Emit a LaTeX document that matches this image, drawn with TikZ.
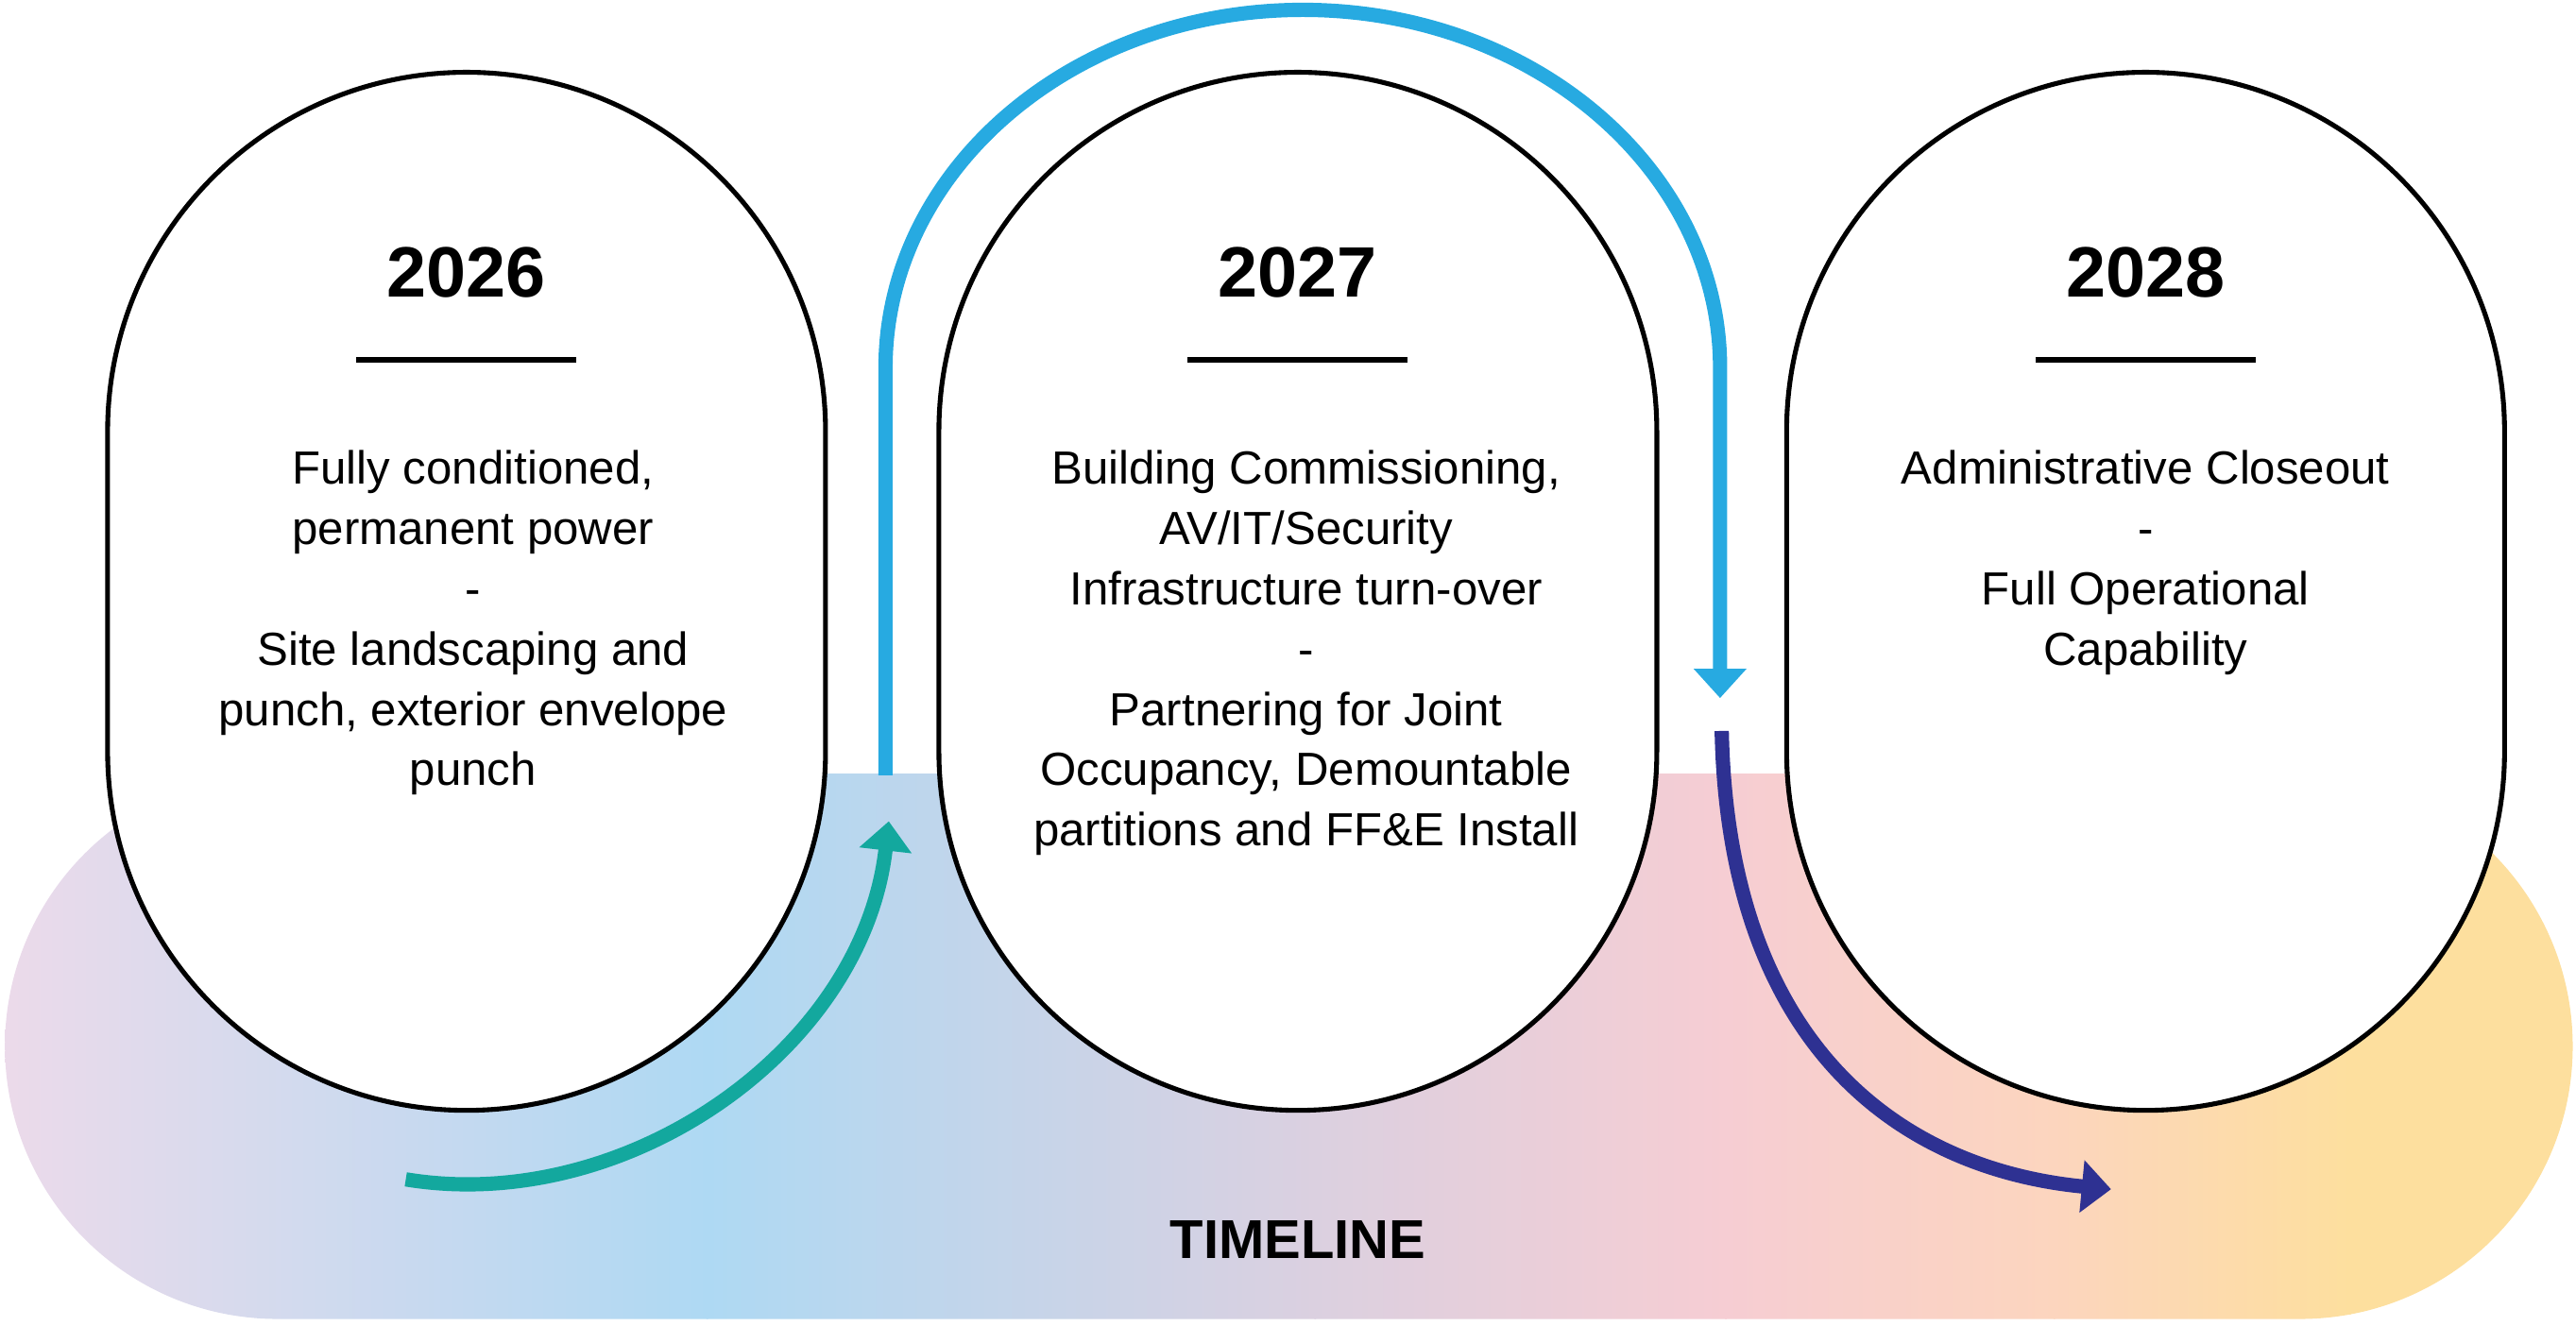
\documentclass[tikz,border=0pt]{standalone}
\usepackage{fontspec}
\setmainfont{Liberation Sans}
\usepackage{xcolor}
\usepackage{tikz}
\usetikzlibrary{arrows.meta,positioning}

\definecolor{tealarrow}{RGB}{19,168,158}
\definecolor{skyarrow}{RGB}{39,170,225}
\definecolor{navyarrow}{RGB}{46,49,146}
\definecolor{bandA}{RGB}{236,218,234}
\definecolor{bandB}{RGB}{174,217,243}
\definecolor{bandC}{RGB}{219,208,224}
\definecolor{bandD}{RGB}{246,205,211}
\definecolor{bandE}{RGB}{252,213,190}
\definecolor{bandF}{RGB}{253,223,158}

\begin{document}
\begin{tikzpicture}[x=0.017392cm,y=-0.017392cm,
	capsule/.style={draw=black,line width=1.45pt,fill=white},
	yearrule/.style={line width=1.5pt},
	flow/.style={line width=4.3pt,-{Triangle[length=0.31cm,width=0.54cm]}},
	yeartext/.style={font=\fontsize{21.5}{26}\selectfont\bfseries,anchor=base,inner sep=0pt},
	bodytext/.style={font=\fontsize{14}{18.16}\selectfont,align=center,anchor=north,inner sep=0pt}]
	\useasboundingbox (0,0) rectangle (1568,807);

	% timeline band
	\begin{scope}
		\clip (169,471) -- (1400,471) arc[start angle=-90,end angle=90,radius=166] -- (169,803) arc[start angle=90,end angle=270,radius=166] -- cycle;
		\shade[left color=bandA,right color=bandB] (0,460) rectangle (431,810);
		\shade[left color=bandB,right color=bandC] (430,460) rectangle (801,810);
		\shade[left color=bandC,right color=bandD] (800,460) rectangle (1051,810);
		\shade[left color=bandD,right color=bandE] (1050,460) rectangle (1251,810);
		\shade[left color=bandE,right color=bandF] (1250,460) rectangle (1431,810);
		\fill[bandF] (1430,460) rectangle (1570,810);
	\end{scope}

	% capsules
	\foreach \cx in {284,790,1306}{
		\draw[capsule] (\cx-218.5,262.5) arc[start angle=180,end angle=360,radius=218.5]
			-- (\cx+218.5,457.5) arc[start angle=0,end angle=180,radius=218.5] -- cycle;
		\draw[yearrule] (\cx-67,219) -- (\cx+67,219);
	}

	% arrows
	\coordinate (teal start) at (247,718);
	\coordinate (teal end) at (541,500);
	\coordinate (sky start) at (539,472);
	\coordinate (sky end) at (1047,425);
	\coordinate (navy start) at (1048,445);
	\coordinate (navy end) at (1285,724);
	\draw[flow,tealarrow] (teal start) .. controls (380,740) and (525,640) .. (teal end);
	\draw[flow,skyarrow] (sky start) -- (539,224) arc[start angle=180,end angle=360,x radius=254,y radius=218] -- (sky end);
	\draw[flow,navyarrow] (navy start) .. controls (1052,640) and (1160,712) .. (navy end);

	% texts
	\node[yeartext] (y26) at (284,181) {2026};
	\node[yeartext] (y27) at (790,181) {2027};
	\node[yeartext] (y28) at (1306,181) {2028};
	\node[bodytext] (t26) at (288,274) {Fully conditioned,\\permanent power\\-\\Site landscaping and\\punch, exterior envelope\\punch};
	\node[bodytext] (t27) at (795,274) {Building Commissioning,\\AV/IT/Security\\Infrastructure turn-over\\-\\Partnering for Joint\\Occupancy, Demountable\\partitions and FF\&E Install};
	\node[bodytext] (t28) at (1306,274) {Administrative Closeout\\-\\Full Operational\\Capability};
	\node[font=\fontsize{16.5}{20}\selectfont\bfseries,anchor=base,inner sep=0pt] (tl) at (790,766) {TIMELINE};
\end{tikzpicture}
\end{document}
